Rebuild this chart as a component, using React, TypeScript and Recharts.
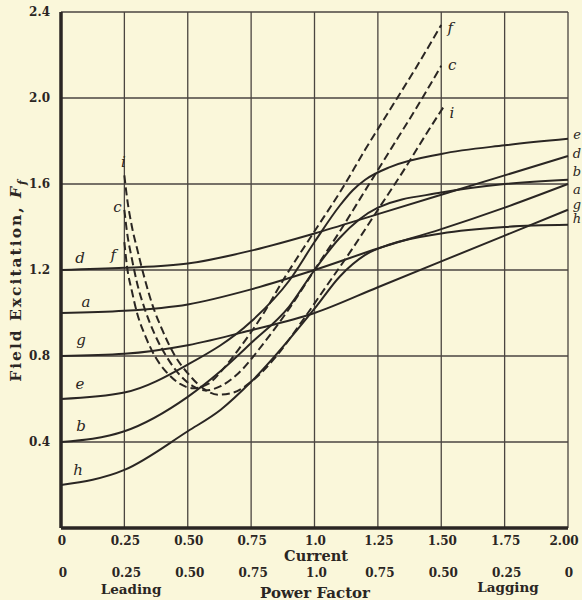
import { LineChart, Line, XAxis, YAxis, CartesianGrid } from 'recharts';

const xTicks = [0, 0.25, 0.5, 0.75, 1, 1.25, 1.5, 1.75, 2];
const currentLabels = ['0', '0.25', '0.50', '0.75', '1.0', '1.25', '1.50', '1.75', '2.00'];
const powerFactorLabels = ['0', '0.25', '0.50', '0.75', '1.0', '0.75', '0.50', '0.25', '0'];
const yTicks = [0, 0.4, 0.8, 1.2, 1.6, 2.0, 2.4];
const yTickLabels = ['', '0.4', '0.8', '1.2', '1.6', '2.0', '2.4'];

// solid curves, [current, excitation]
const curveA: [number, number][] = [
  [0, 1.0], [0.25, 1.01], [0.5, 1.04], [0.75, 1.11], [1.0, 1.2], [1.25, 1.3], [1.5, 1.39], [1.75, 1.49], [2.0, 1.6],
];
const curveB: [number, number][] = [
  [0, 0.4], [0.25, 0.45], [0.5, 0.61], [0.63, 0.73], [0.75, 0.86], [0.9, 1.03], [1.0, 1.2], [1.1, 1.35],
  [1.25, 1.49], [1.5, 1.56], [1.75, 1.6], [2.0, 1.62],
];
const curveD: [number, number][] = [
  [0, 1.2], [0.25, 1.21], [0.5, 1.23], [0.75, 1.29], [1.0, 1.37], [1.25, 1.46], [1.5, 1.55], [1.75, 1.64], [2.0, 1.73],
];
const curveE: [number, number][] = [
  [0, 0.6], [0.25, 0.63], [0.5, 0.76], [0.75, 0.96], [0.9, 1.15], [1.0, 1.33], [1.1, 1.5], [1.15, 1.57],
  [1.2, 1.62], [1.3, 1.68], [1.5, 1.74], [1.75, 1.78], [2.0, 1.81],
];
const curveG: [number, number][] = [
  [0, 0.8], [0.25, 0.81], [0.5, 0.85], [0.75, 0.92], [1.0, 1.0], [1.25, 1.12], [1.5, 1.24], [1.75, 1.36], [2.0, 1.48],
];
const curveH: [number, number][] = [
  [0, 0.2], [0.25, 0.27], [0.5, 0.45], [0.63, 0.55], [0.75, 0.68], [1.0, 1.02], [1.1, 1.17], [1.2, 1.27],
  [1.3, 1.32], [1.5, 1.37], [1.75, 1.4], [2.0, 1.41],
];

// dashed V-curves
const curveF: [number, number][] = [
  [0.25, 1.33], [0.26, 1.22], [0.28, 1.1], [0.3, 1.0], [0.33, 0.9], [0.37, 0.8], [0.42, 0.72], [0.47, 0.67],
  [0.52, 0.65], [0.58, 0.67], [0.64, 0.74], [0.7, 0.83], [0.8, 1.0], [0.88, 1.16], [1.0, 1.38], [1.11, 1.58],
  [1.2, 1.76], [1.3, 1.95], [1.4, 2.14], [1.5, 2.34],
];
const curveC: [number, number][] = [
  [0.25, 1.48], [0.26, 1.38], [0.28, 1.25], [0.3, 1.14], [0.33, 1.02], [0.37, 0.9], [0.42, 0.79], [0.47, 0.71],
  [0.52, 0.66], [0.57, 0.64], [0.63, 0.66], [0.7, 0.72], [0.8, 0.86], [0.9, 1.02], [1.0, 1.2], [1.1, 1.38],
  [1.2, 1.57], [1.3, 1.76], [1.4, 1.95], [1.5, 2.15],
];
const curveI: [number, number][] = [
  [0.25, 1.64], [0.26, 1.54], [0.28, 1.4], [0.3, 1.3], [0.33, 1.16], [0.36, 1.04], [0.4, 0.92], [0.45, 0.8],
  [0.5, 0.72], [0.56, 0.65], [0.62, 0.62], [0.68, 0.63], [0.75, 0.68], [0.85, 0.8], [0.95, 0.96], [1.05, 1.13],
  [1.15, 1.3], [1.25, 1.48], [1.35, 1.66], [1.45, 1.85], [1.51, 1.96],
];

const INK = '#2a2623';
const GRID = '#4a4540';
const PAPER = '#faf7da';
const BOLD_SERIF = '"DejaVu Serif", "Liberation Serif", serif';

type Offset = { dx: number; dy: number };

const series: { name: string; points: [number, number][]; dashed: boolean; start?: Offset; end?: Offset }[] = [
  { name: 'd', points: curveD, dashed: false, start: { dx: 19, dy: -12 }, end: { dx: 9, dy: -3 } },
  { name: 'a', points: curveA, dashed: false, start: { dx: 25, dy: -11 }, end: { dx: 9, dy: 5 } },
  { name: 'g', points: curveG, dashed: false, start: { dx: 20, dy: -16 }, end: { dx: 9, dy: -5 } },
  { name: 'e', points: curveE, dashed: false, start: { dx: 19, dy: -15 }, end: { dx: 9, dy: -4 } },
  { name: 'b', points: curveB, dashed: false, start: { dx: 20, dy: -16 }, end: { dx: 9, dy: -8 } },
  { name: 'h', points: curveH, dashed: false, start: { dx: 17, dy: -15 }, end: { dx: 9, dy: -6 } },
  { name: 'f', points: curveF, dashed: true, start: { dx: -11, dy: 13 }, end: { dx: 9, dy: 3 } },
  { name: 'c', points: curveC, dashed: true, start: { dx: -7, dy: -3 }, end: { dx: 11, dy: -1 } },
  { name: 'i', points: curveI, dashed: true, start: { dx: -1, dy: -13 }, end: { dx: 8, dy: 6 } },
];

const toData = (pts: [number, number][]) => pts.map(([x, y]) => ({ x, y }));

const makeLabel = (name: string, count: number, start?: Offset, end?: Offset, endSize = 15) => (props: any) => {
  const { x, y, index } = props;
  let off: Offset | undefined;
  let size = 15;
  if (index === 0) off = start;
  if (index === count - 1) {
    off = end;
    size = endSize;
  }
  if (!off) return <g key={`${name}-${index}`} />;
  return (
    <text
      key={`${name}-${index}`}
      x={x + off.dx}
      y={y + off.dy}
      textAnchor="middle"
      dominantBaseline="central"
      fontFamily={BOLD_SERIF}
      fontStyle="italic"
      fontSize={size}
      fill={INK}
    >
      {name}
    </text>
  );
};

const XTick = (props: any) => {
  const { x, y, payload } = props;
  const i = xTicks.indexOf(payload.value);
  const shift = i === xTicks.length - 1 ? -4 : 1;
  return (
    <g fontFamily={BOLD_SERIF} fontWeight="bold" fontSize={12} fill={INK}>
      <text x={x + shift} y={y + 13} textAnchor="middle" dominantBaseline="central" fill={INK}>
        {currentLabels[i]}
      </text>
      <text x={x + (i === xTicks.length - 1 ? 1 : 2)} y={y + 45} textAnchor="middle" dominantBaseline="central" fill={INK}>
        {powerFactorLabels[i]}
      </text>
    </g>
  );
};

const YTick = (props: any) => {
  const { y, payload } = props;
  const i = yTicks.indexOf(payload.value);
  return (
    <text x={50} y={y} textAnchor="end" dominantBaseline="central" fontFamily={BOLD_SERIF} fontWeight="bold" fontSize={12} fill={INK}>
      {yTickLabels[i]}
    </text>
  );
};

const textStyle = (size: number): React.CSSProperties => ({
  position: 'absolute',
  fontFamily: BOLD_SERIF,
  fontWeight: 'bold',
  fontSize: size,
  color: INK,
  whiteSpace: 'nowrap',
  transform: 'translate(-50%, -50%)',
  lineHeight: 1,
});

export default function App() {
  return (
    <div style={{ position: 'absolute', left: 0, top: 0, width: 582, height: 600, background: PAPER, overflow: 'hidden' }}>
      <LineChart width={582} height={600} margin={{ top: 12, right: 14, left: 0, bottom: 0 }}>
        <CartesianGrid stroke={GRID} strokeWidth={1.3} />
        <XAxis
          type="number"
          dataKey="x"
          domain={[0, 2]}
          ticks={xTicks}
          height={72}
          tickSize={0}
          tickMargin={0}
          tickLine={false}
          axisLine={{ stroke: INK, strokeWidth: 3.5 }}
          tick={<XTick />}
          interval={0}
        />
        <YAxis
          type="number"
          domain={[0, 2.4]}
          ticks={yTicks}
          width={61}
          tickSize={0}
          tickMargin={0}
          tickLine={false}
          axisLine={{ stroke: INK, strokeWidth: 3.5 }}
          tick={<YTick />}
          interval={0}
        />
        {series.map((s) => (
          <Line
            key={s.name}
            data={toData(s.points)}
            dataKey="y"
            type="monotone"
            stroke={INK}
            strokeWidth={2}
            strokeDasharray={s.dashed ? '8 4' : undefined}
            dot={false}
            activeDot={false}
            isAnimationActive={false}
            label={makeLabel(s.name, s.points.length, s.start, s.end, s.dashed ? 15 : 13)}
          />
        ))}
      </LineChart>
      <div style={{ ...textStyle(14.5), left: 316, top: 556 }}>Current</div>
      <div style={{ ...textStyle(15), left: 315, top: 593 }}>Power Factor</div>
      <div style={{ ...textStyle(13.5), left: 131, top: 590 }}>Leading</div>
      <div style={{ ...textStyle(13.5), left: 508, top: 588 }}>Lagging</div>
      <div
        style={{
          ...textStyle(15.5),
          left: 18,
          top: 280,
          letterSpacing: 2,
          transform: 'translate(-50%, -50%) rotate(-90deg)',
        }}
      >
        Field Excitation, <i>F<sub style={{ fontSize: 11 }}>f</sub></i>
      </div>
    </div>
  );
}
